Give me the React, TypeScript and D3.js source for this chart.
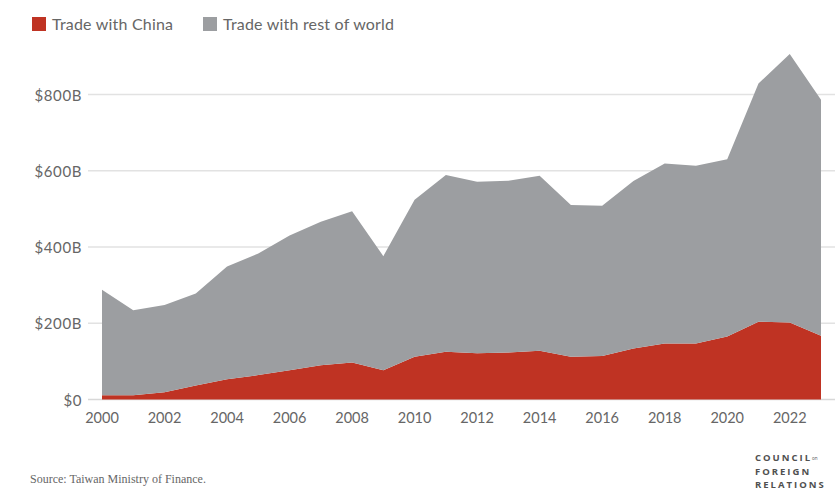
import React from "react";
import * as d3 from "d3";

const years = [2000, 2001, 2002, 2003, 2004, 2005, 2006, 2007, 2008, 2009, 2010, 2011, 2012, 2013, 2014, 2015, 2016, 2017, 2018, 2019, 2020, 2021, 2022, 2023];
const totalTrade = [288, 234, 248, 278, 349, 383, 430, 466, 494, 376, 524, 589, 571, 574, 587, 510, 508, 573, 619, 613, 630, 829, 906, 786];
const chinaTrade = [11, 11, 19, 37, 53, 64, 77, 90, 97, 77, 112, 125, 121, 123, 128, 112, 114, 134, 147, 147, 165, 204, 202, 167];
const yTicks = [0, 200, 400, 600, 800];
const xTicks = [2000, 2002, 2004, 2006, 2008, 2010, 2012, 2014, 2016, 2018, 2020, 2022];
const seriesNames = ["Trade with China", "Trade with rest of world"];
const seriesColors = ["#bf3323", "#9c9ea1"];

const W = 835;
const H = 495;
const font = "Lato, 'Open Sans', sans-serif";

export default function App() {
  const x = d3.scaleLinear().domain([2000, 2023]).range([102, 821]);
  const y = d3.scaleLinear().domain([0, 800]).range([399.5, 94.5]);

  const rows = years.map((yr, i) => ({ year: yr, china: chinaTrade[i], rest: totalTrade[i] - chinaTrade[i] }));
  const stack = d3.stack<any>().keys(["china", "rest"])(rows);
  const area = d3
    .area<any>()
    .x((d) => x(d.data.year))
    .y0((d) => y(d[0]))
    .y1((d) => y(d[1]))
    .curve(d3.curveLinear);

  return (
    <svg width={W} height={H} style={{ display: "block", position: "absolute", left: 0, top: 0, background: "#fff" }}>
      <rect x={0} y={0} width={W} height={H} fill="#fff" />
      {/* legend */}
      {seriesNames.map((n, i) => {
        const lx = i === 0 ? 32 : 203;
        return (
          <g key={n}>
            <rect x={lx} y={17} width={14} height={14} fill={seriesColors[i]} />
            <text x={lx + 20} y={29.5} fontFamily={font} fontSize={16} letterSpacing={0.2} fill="#666">
              {n}
            </text>
          </g>
        );
      })}
      {/* gridlines */}
      {yTicks.map((t) => (
        <g key={t}>
          <line x1={88} x2={835} y1={y(t)} y2={y(t)} stroke={t === 0 ? "#d8d8d8" : "#e2e2e2"} strokeWidth={1.5} />
          <text x={82} y={y(t) + 6} textAnchor="end" fontFamily={font} fontSize={15} letterSpacing={0.6} fill="#666">
            {t === 0 ? "$0" : `$${t}B`}
          </text>
        </g>
      ))}
      {/* areas */}
      {stack.map((s, i) => (
        <path key={s.key} d={area(s) || ""} fill={seriesColors[i]} />
      ))}
      {/* x ticks */}
      {xTicks.map((t) => (
        <text key={t} x={x(t)} y={423} textAnchor="middle" fontFamily={font} fontSize={14.5} fill="#666">
          {t}
        </text>
      ))}
      {/* source */}
      <text x={30} y={483} fontFamily="'Liberation Serif', 'DejaVu Serif', serif" fontSize={12} fill="#666">
        Source: Taiwan Ministry of Finance.
      </text>
      {/* logo */}
      <g fontFamily="'Open Sans', 'DejaVu Sans', sans-serif" fontSize={9.5} fontWeight={700} fill="#505050" letterSpacing={2}>
        <text x={755} y={461}>COUNCIL<tspan fontSize={4.5} fontWeight={400} letterSpacing={0} dy={-1}>on</tspan></text>
        <text x={755} y={474.5}>FOREIGN</text>
        <text x={755} y={488}>RELATIONS</text>
      </g>
    </svg>
  );
}
